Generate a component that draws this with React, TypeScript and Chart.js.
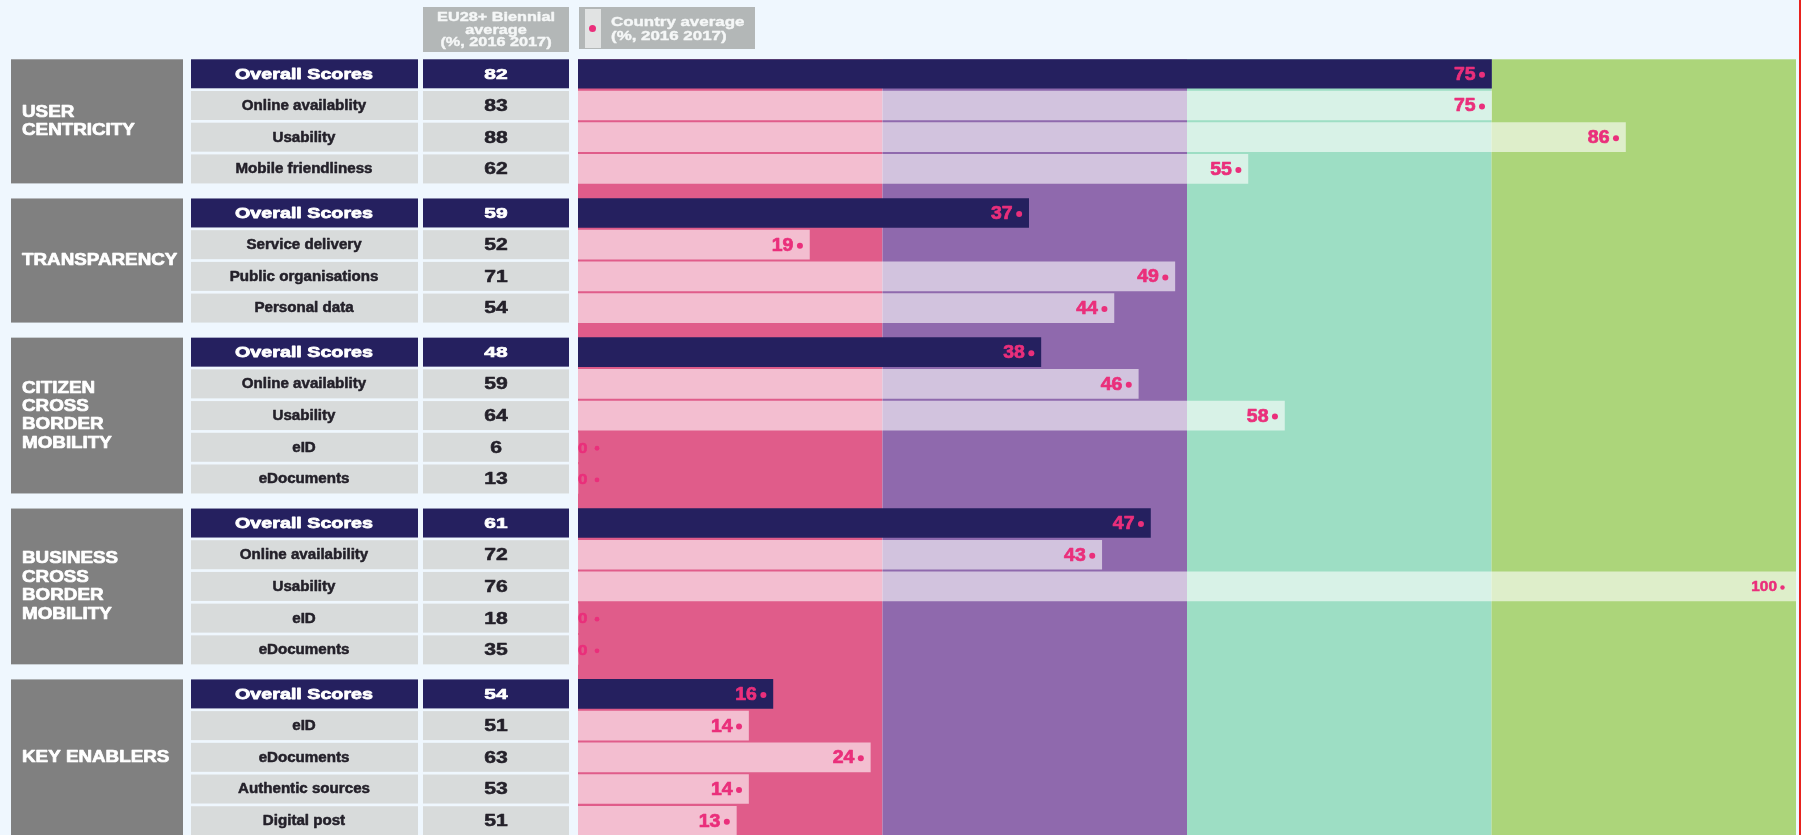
import React, { useEffect, useRef } from "react";
import { Chart, registerables } from "chart.js";

Chart.register(...registerables);

// ---------- data ----------
const GROUP_NAMES = [
  "USER\nCENTRICITY",
  "TRANSPARENCY",
  "CITIZEN\nCROSS\nBORDER\nMOBILITY",
  "BUSINESS\nCROSS\nBORDER\nMOBILITY",
  "KEY ENABLERS",
];
const GROUP_SIZES = [4, 4, 5, 5, 5];
const ROW_LABELS = [
  "Overall Scores", "Online availablity", "Usability", "Mobile friendliness",
  "Overall Scores", "Service delivery", "Public organisations", "Personal data",
  "Overall Scores", "Online availablity", "Usability", "eID", "eDocuments",
  "Overall Scores", "Online availability", "Usability", "eID", "eDocuments",
  "Overall Scores", "eID", "eDocuments", "Authentic sources", "Digital post",
];
const EU_AVERAGE = [82, 83, 88, 62, 59, 52, 71, 54, 48, 59, 64, 6, 13, 61, 72, 76, 18, 35, 54, 51, 63, 53, 51];
const COUNTRY_AVERAGE = [75, 75, 86, 55, 37, 19, 49, 44, 38, 46, 58, 0, 0, 47, 43, 100, 0, 0, 16, 14, 24, 14, 13];
const BAND_EDGES = [0, 25, 50, 75, 100];
const HEADER_EU = ["EU28+ Biennial", "average", "(%, 2016 2017)"];
const HEADER_COUNTRY = ["Country average", "(%, 2016 2017)"];

// ---------- style ----------
const BAND_COLORS = ["#e05c8a", "#8f69ad", "#9ddec4", "#acd57a"];
const NAVY = "#25205f";
const OVERLAY = "rgba(255,255,255,0.6)";
const CAT_GRAY = "#808080";
const CELL_GRAY = "#d8dbdb";
const HEAD_GRAY = "#b3b7b7";
const BG = "#eff7fe";
const PINK = "#ea2f7b";
const DARK = "#24212a";
const GROUP_GAP = 0.39;
const BAR_H = 29;

// row positions on the linear y scale (row index + extra gap per group)
const ROW_GROUP: number[] = [];
GROUP_SIZES.forEach((n, g) => { for (let k = 0; k < n; k++) ROW_GROUP.push(g); });
const ROW_POS = ROW_LABELS.map((_, i) => i + ROW_GROUP[i] * GROUP_GAP);

function txt(ctx: CanvasRenderingContext2D, s: string, x: number, y: number, size: number, sx: number, color: string, align: "left" | "center" | "right", heavy = 0.6) {
  ctx.save();
  ctx.font = `bold ${size}px "Liberation Sans", Arial, sans-serif`;
  ctx.fillStyle = color;
  ctx.strokeStyle = color;
  ctx.lineWidth = heavy;
  ctx.lineJoin = "round";
  ctx.textBaseline = "middle";
  ctx.textAlign = "left";
  const w = ctx.measureText(s).width * sx;
  const left = align === "center" ? x - w / 2 : align === "right" ? x - w : x;
  ctx.translate(left, y);
  ctx.scale(sx, 1);
  ctx.fillText(s, 0, 0);
  if (heavy > 0) ctx.strokeText(s, 0, 0);
  ctx.restore();
  return w;
}

const decorPlugin = {
  id: "decor",
  beforeDraw(chart: any) {
    const { ctx, width, height } = chart;
    ctx.save();
    ctx.fillStyle = BG;
    ctx.fillRect(0, 0, width, height);
    // red edge line
    ctx.fillStyle = "#e8221e";
    ctx.fillRect(width - 2, 0, 2, height);
    // header: EU box
    ctx.fillStyle = HEAD_GRAY;
    ctx.fillRect(423, 7, 146, 45);
    const euY = [18, 30.5, 42.5];
    HEADER_EU.forEach((s, i) => txt(ctx, s, 496, euY[i], 12.5, 1.3, "#f5f7f7", "center", 0.4));
    // header: country box
    ctx.fillStyle = HEAD_GRAY;
    ctx.fillRect(579, 7, 176, 42);
    ctx.fillStyle = "#e1e3e3";
    ctx.fillRect(585, 9, 16, 39);
    ctx.fillStyle = PINK;
    ctx.beginPath();
    ctx.arc(592.5, 28.5, 3.5, 0, Math.PI * 2);
    ctx.fill();
    const cY = [22.7, 36.5];
    HEADER_COUNTRY.forEach((s, i) => txt(ctx, s, 611, cY[i], 13, 1.3, "#f5f7f7", "left", 0.4));
    ctx.restore();
  },
  beforeDatasetsDraw(chart: any) {
    const { ctx, chartArea } = chart;
    const xs = chart.scales.x;
    const ys = chart.scales.y;
    ctx.save();
    // bands
    for (let b = 0; b < BAND_COLORS.length; b++) {
      const x0 = xs.getPixelForValue(BAND_EDGES[b]);
      const x1 = xs.getPixelForValue(BAND_EDGES[b + 1]);
      ctx.fillStyle = BAND_COLORS[b];
      ctx.fillRect(x0, chartArea.top, x1 - x0, chartArea.bottom - chartArea.top);
    }
    // table: category boxes
    let start = 0;
    GROUP_SIZES.forEach((n, g) => {
      const top = ys.getPixelForValue(ROW_POS[start]) - BAR_H / 2;
      const bottom = ys.getPixelForValue(ROW_POS[start + n - 1]) + BAR_H / 2;
      ctx.fillStyle = CAT_GRAY;
      ctx.fillRect(11, top, 172, bottom - top);
      const lines = GROUP_NAMES[g].split("\n");
      const lh = 18.4;
      const cy = (top + bottom) / 2 - ((lines.length - 1) * lh) / 2;
      lines.forEach((l, k) => txt(ctx, l, 22, cy + k * lh, 16.5, 1.14, "#ffffff", "left", 0.7));
      start += n;
    });
    // table: row cells
    ROW_LABELS.forEach((label, i) => {
      const y = ys.getPixelForValue(ROW_POS[i]);
      const overall = label === "Overall Scores";
      ctx.fillStyle = overall ? NAVY : CELL_GRAY;
      ctx.fillRect(191, y - BAR_H / 2, 227, BAR_H);
      ctx.fillRect(423, y - BAR_H / 2, 146, BAR_H);
      if (overall) {
        txt(ctx, label, 304, y + 0.5, 15.5, 1.27, "#ffffff", "center", 0.8);
        txt(ctx, String(EU_AVERAGE[i]), 496, y + 1, 15.5, 1.35, "#ffffff", "center", 0.7);
      } else {
        txt(ctx, label, 304, y + 0.5, 14, 1.08, DARK, "center", 0.5);
        txt(ctx, String(EU_AVERAGE[i]), 496, y + 1, 16, 1.32, DARK, "center", 0.5);
      }
    });
    ctx.restore();
  },
  afterDatasetsDraw(chart: any) {
    const { ctx } = chart;
    const meta = chart.getDatasetMeta(0);
    const xs = chart.scales.x;
    ctx.save();
    meta.data.forEach((el: any, i: number) => {
      const v = COUNTRY_AVERAGE[i];
      const y = el.y;
      const x0 = xs.getPixelForValue(0);
      ctx.fillStyle = PINK;
      if (v === 0) {
        txt(ctx, String(v), x0, y + 1, 15.5, 1.1, PINK, "left", 0.6);
        ctx.fillStyle = PINK;
        ctx.beginPath();
        ctx.arc(x0 + 19, y + 1, 2.4, 0, Math.PI * 2);
        ctx.fill();
      } else if (v >= 100) {
        txt(ctx, String(v), el.x - 19, y + 1, 14, 1.1, PINK, "right", 0.5);
        ctx.fillStyle = PINK;
        ctx.beginPath();
        ctx.arc(el.x - 13.5, y + 1, 2.2, 0, Math.PI * 2);
        ctx.fill();
      } else {
        txt(ctx, String(v), el.x - 16, y + 1, 18, 1.08, PINK, "right", 0.7);
        ctx.fillStyle = PINK;
        ctx.beginPath();
        ctx.arc(el.x - 9.5, y + 1, 3, 0, Math.PI * 2);
        ctx.fill();
      }
    });
    ctx.restore();
  },
};

export default function App() {
  const ref = useRef<HTMLCanvasElement | null>(null);
  useEffect(() => {
    document.body.style.margin = "0";
    const canvas = ref.current;
    if (!canvas) return;
    const chart = new Chart(canvas, {
      type: "bar",
      data: {
        datasets: [
          {
            label: "Country average",
            data: COUNTRY_AVERAGE.map((v, i) => ({ x: v, y: ROW_POS[i] })),
            backgroundColor: ROW_LABELS.map((l) => (l === "Overall Scores" ? NAVY : OVERLAY)),
            borderWidth: 0,
            barThickness: BAR_H,
          } as any,
        ],
      },
      options: {
        indexAxis: "y",
        responsive: false,
        devicePixelRatio: 1,
        animation: false,
        layout: { padding: { left: 578, right: 5, top: 59.3, bottom: 0 } },
        scales: {
          x: { type: "linear", min: 0, max: 100, display: false, offset: false },
          y: { type: "linear", min: -0.457, max: 24.01, reverse: true, display: false, offset: false },
        },
        plugins: { legend: { display: false }, tooltip: { enabled: false } },
      } as any,
      plugins: [decorPlugin],
    });
    return () => chart.destroy();
  }, []);
  return (
    <div style={{ position: "absolute", left: 0, top: 0, width: 1801, height: 835 }}>
      <canvas ref={ref} width={1801} height={835} style={{ display: "block" }} />
    </div>
  );
}
